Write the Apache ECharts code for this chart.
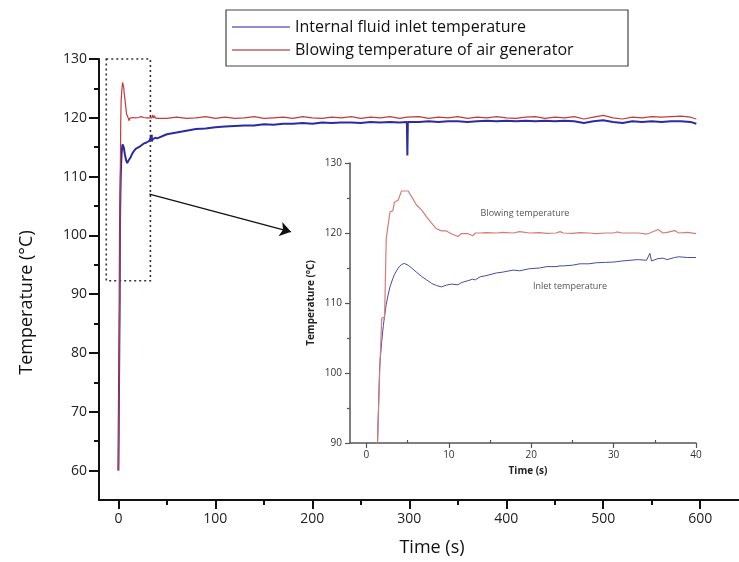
<!DOCTYPE html>
<html>
<head>
<meta charset="utf-8">
<script src="https://cdn.jsdelivr.net/npm/echarts@6/dist/echarts.min.js"></script>
<style>
  html, body { margin: 0; padding: 0; background: #fff; }
  #chart { width: 739px; height: 562px; }
</style>
</head>
<body>
<div id="chart"></div>
<script>
// inset (zoom of first 40 s)
const insetTime = [1.34, 1.6, 1.85, 2.05, 2.2, 2.4, 2.6, 2.85, 3.2, 3.4, 3.85, 4.25, 4.6, 5.06, 5.47, 6.07, 6.68, 7.3, 7.9, 8.5,
  9.1, 9.7, 10.3, 11.1, 11.5, 12.35, 12.9, 13.2, 13.8, 14.5, 15.8, 16.5, 17.8, 18.6, 19.8, 21, 21.9, 23, 23.5, 23.9,
  25, 25.9, 27, 27.9, 29, 30, 30.4, 31, 32, 33, 34, 34.4, 34.6, 35.4, 36, 36.5, 37.4, 37.9, 39, 40];
const insetRed = [90, 100, 107.8, 107.8, 108, 119.2, 119.4, 123, 123.2, 124.4, 124.7, 126, 126, 126, 125.2, 124, 123.3, 122.3, 121.4, 120.6,
  120.3, 120.3, 119.9, 119.5, 119.9, 119.9, 119.6, 120, 120, 120.05, 120, 120.1, 120, 120.2, 120, 120.05, 119.95, 120, 120.2, 120,
  119.95, 120.05, 120, 119.9, 120, 120, 120.15, 120, 120, 120, 119.85, 120, 120, 120.5, 120, 120.1, 120.35, 120, 120.1, 119.9];
const insetBlue = [90, 101, 104.5, 106.8, 108.2, 109.8, 111, 112.3, 113.5, 114.1, 115, 115.5, 115.65, 115.4, 115, 114.4, 113.8, 113.3, 112.8, 112.5,
  112.3, 112.55, 112.7, 112.6, 112.9, 113.2, 113.4, 113.3, 113.75, 113.9, 114.3, 114.4, 114.7, 114.6, 114.9, 115, 115.2, 115.2, 115.3, 115.3,
  115.4, 115.6, 115.6, 115.75, 115.8, 115.85, 115.9, 116, 116.1, 116.2, 116.1, 117.1, 116.0, 116.35, 116.4, 116.2, 116.5, 116.6, 116.5, 116.5];

// rest of the run, 50 s to the end
const longTime = [50, 60, 70, 80, 90, 100, 110, 120, 130, 140, 150, 160, 170, 180, 190, 200, 210, 220, 230, 240, 250, 260, 270, 280, 290,
  297.5, 298, 298.5,
  310, 320, 330, 340, 350, 360, 370, 380, 390, 400, 410, 420, 430, 440, 450, 460, 470, 480, 490, 500, 510, 520, 530, 540, 550, 560, 570, 580, 590,
  596];
const longBlue = [117.2, 117.5, 117.8, 118.1, 118.2, 118.4, 118.5, 118.6, 118.7, 118.7, 118.9, 118.8, 119.0, 119.0, 119.1, 119.0, 119.2, 119.1, 119.2, 119.2, 119.1, 119.3, 119.2, 119.3, 119.2,
  119.3, 113.6, 119.3,
  119.3, 119.4, 119.3, 119.4, 119.4, 119.3, 119.4, 119.5, 119.4, 119.5, 119.4, 119.5, 119.4, 119.5, 119.4, 119.5, 119.4, 119.1, 119.4, 119.6, 119.3, 119.1, 119.4, 119.3, 119.4, 119.3, 119.4, 119.4, 119.3,
  119.0];
const longRed = [119.9, 120.1, 119.9, 120.0, 120.2, 119.9, 120.1, 119.9, 120.0, 120.2, 119.9, 120.0, 120.1, 119.9, 120.2, 120.0, 119.9, 120.1, 120.0, 120.2, 119.9, 120.1, 120.0, 120.2, 119.9,
  120.1, 120.0, 120.1,
  120.2, 119.9, 120.1, 120.0, 120.2, 119.9, 120.1, 120.0, 120.2, 120.0, 119.9, 120.1, 120.2, 119.9, 120.1, 120.0, 120.2, 119.8, 120.1, 120.4, 120.0, 119.8, 120.1, 120.0, 120.2, 120.1, 120.2, 120.3, 120.1,
  119.8];

const startTime = 0;
const startValue = 60;

const mainXTicks = [0, 100, 200, 300, 400, 500, 600];
const mainXMinor = [50, 150, 250, 350, 450, 550];
const mainYTicks = [60, 70, 80, 90, 100, 110, 120, 130];
const mainYMinor = [65, 75, 85, 95, 105, 115, 125];
const insetXTicks = [0, 10, 20, 30, 40];
const insetXMinor = [5, 15, 25, 35];

const zoomBox = [[-12.5, 130], [33, 92.3]];
const arrowFrom = [32, 107];
const arrowTo = [178, 100.6];

const pairs = (xs, ys) => xs.map((x, i) => [x, ys[i]]);
const mainTime = [startTime].concat(insetTime, longTime);
const mainBlue = [startValue].concat(insetBlue, longBlue);
const mainRed = [startValue].concat(insetRed, longRed);

const font = 'Open Sans';
const chart = echarts.init(document.getElementById('chart'));

const option = {
  animation: false,
  grid: [
    { left: 99, top: 59, right: 0, bottom: 57 },
    { left: 350, top: 163, right: 43, bottom: 119 },
  ],
  legend: {
    left: 232,
    top: 17,
    orient: 'vertical',
    padding: 0,
    itemGap: 3,
    itemWidth: 58,
    itemHeight: 1.5,
    icon: 'rect',
    textStyle: { fontFamily: font, fontSize: 16, color: '#111', lineHeight: 20 },
    data: [
      { name: 'Internal fluid inlet temperature', itemStyle: { color: '#6a6ab8' } },
      { name: 'Blowing temperature of air generator', itemStyle: { color: '#b86464' } },
    ],
  },
  graphic: [
    {
      type: 'rect',
      z: -1,
      shape: { x: 226, y: 10, width: 402, height: 56 },
      style: { fill: 'none', stroke: '#444', lineWidth: 1.2 },
    },
    {
      type: 'text',
      x: 525, y: 213,
      style: { text: 'Blowing temperature', fontFamily: font, fontSize: 9, fill: '#555', align: 'center', verticalAlign: 'middle' },
    },
    {
      type: 'text',
      x: 570, y: 286,
      style: { text: 'Inlet temperature', fontFamily: font, fontSize: 9, fill: '#555', align: 'center', verticalAlign: 'middle' },
    },
  ],
  xAxis: [
    {
      gridIndex: 0, type: 'value', min: -20, max: 640,
      axisLine: { onZero: false, lineStyle: { color: '#111', width: 2 } },
      axisTick: { customValues: mainXTicks, length: 9, lineStyle: { color: '#111', width: 2 } },
      axisLabel: { customValues: mainXTicks, margin: 12, fontFamily: font, fontSize: 14, color: '#222' },
      splitLine: { show: false },
      name: 'Time (s)', nameLocation: 'middle', nameGap: 39,
      nameTextStyle: { fontFamily: font, fontSize: 18, color: '#111', padding: [0, 0, 0, 26] },
    },
    {
      gridIndex: 0, type: 'value', min: -20, max: 640, position: 'bottom',
      axisLine: { show: false, onZero: false },
      axisTick: { customValues: mainXMinor, length: 5, lineStyle: { color: '#111', width: 2 } },
      axisLabel: { show: false },
      splitLine: { show: false },
    },
    {
      gridIndex: 1, type: 'value', min: -2, max: 40,
      axisLine: { onZero: false, lineStyle: { color: '#555', width: 1.5 } },
      axisTick: { customValues: insetXTicks, length: 5, lineStyle: { color: '#555', width: 1.2 } },
      axisLabel: { customValues: insetXTicks, margin: 7, fontFamily: font, fontSize: 10, color: '#333' },
      splitLine: { show: false },
      name: 'Time (s)', nameLocation: 'middle', nameGap: 23,
      nameTextStyle: { fontFamily: font, fontSize: 10, fontWeight: 'bold', color: '#222', padding: [0, 0, 0, 10] },
    },
    {
      gridIndex: 1, type: 'value', min: -2, max: 40, position: 'bottom',
      axisLine: { show: false, onZero: false },
      axisTick: { customValues: insetXMinor, length: 3, inside: true, lineStyle: { color: '#555', width: 1.2 } },
      axisLabel: { show: false },
      splitLine: { show: false },
    },
  ],
  yAxis: [
    {
      gridIndex: 0, type: 'value', min: 55, max: 130,
      axisLine: { show: true, onZero: false, lineStyle: { color: '#111', width: 2 } },
      axisTick: { show: true, customValues: mainYTicks, length: 10, lineStyle: { color: '#111', width: 2 } },
      axisLabel: { customValues: mainYTicks, margin: 12, fontFamily: font, fontSize: 14, color: '#222' },
      splitLine: { show: false },
      name: 'Temperature (°C)', nameLocation: 'middle', nameGap: 63,
      nameTextStyle: { fontFamily: font, fontSize: 18, color: '#111', padding: [0, 46, 0, 0] },
    },
    {
      gridIndex: 0, type: 'value', min: 55, max: 130, position: 'left',
      axisLine: { show: false, onZero: false },
      axisTick: { show: true, customValues: mainYMinor, length: 5, lineStyle: { color: '#111', width: 2 } },
      axisLabel: { show: false },
      splitLine: { show: false },
    },
    {
      gridIndex: 1, type: 'value', min: 90, max: 130, interval: 10,
      axisLine: { show: true, onZero: false, lineStyle: { color: '#555', width: 1.5 } },
      axisTick: { show: true, length: 5, lineStyle: { color: '#555', width: 1.2 } },
      minorTick: { show: true, splitNumber: 2, length: 3, lineStyle: { color: '#555', width: 1.2 } },
      axisLabel: { margin: 8, fontFamily: font, fontSize: 10, color: '#333' },
      splitLine: { show: false },
      name: 'Temperature (°C)', nameLocation: 'middle', nameGap: 34,
      nameTextStyle: { fontFamily: font, fontSize: 10, fontWeight: 'bold', color: '#222' },
    },
  ],
  series: [
    {
      name: 'Internal fluid inlet temperature',
      type: 'line',
      xAxisIndex: 0, yAxisIndex: 0,
      data: pairs(mainTime, mainBlue),
      showSymbol: false,
      color: '#2b2ba3',
      lineStyle: { color: '#2b2ba3', width: 2 },
      markLine: {
        silent: true,
        symbol: ['none', 'arrow'],
        symbolSize: 11,
        label: { show: false },
        lineStyle: { color: '#111', type: 'solid', width: 1.3 },
        data: [[{ coord: arrowFrom }, { coord: arrowTo }]],
      },
    },
    {
      name: 'Blowing temperature of air generator',
      type: 'line',
      xAxisIndex: 0, yAxisIndex: 0,
      data: pairs(mainTime, mainRed),
      showSymbol: false,
      color: '#c23b3b',
      lineStyle: { color: '#c23b3b', width: 1.2 },
      markArea: {
        silent: true,
        itemStyle: { color: 'rgba(0,0,0,0)', borderColor: '#333', borderWidth: 1.6, borderType: [2, 3] },
        data: [[{ coord: zoomBox[0] }, { coord: zoomBox[1] }]],
      },
    },
    {
      name: 'inset inlet',
      type: 'line',
      xAxisIndex: 2, yAxisIndex: 2,
      data: pairs(insetTime, insetBlue),
      showSymbol: false,
      color: '#4a4aa0',
      lineStyle: { color: '#4a4aa0', width: 1 },
    },
    {
      name: 'inset blowing',
      type: 'line',
      xAxisIndex: 2, yAxisIndex: 2,
      data: pairs(insetTime, insetRed),
      showSymbol: false,
      color: '#d47c7c',
      lineStyle: { color: '#d47c7c', width: 1.2 },
    },
  ],
};

chart.setOption(option);
</script>
</body>
</html>
